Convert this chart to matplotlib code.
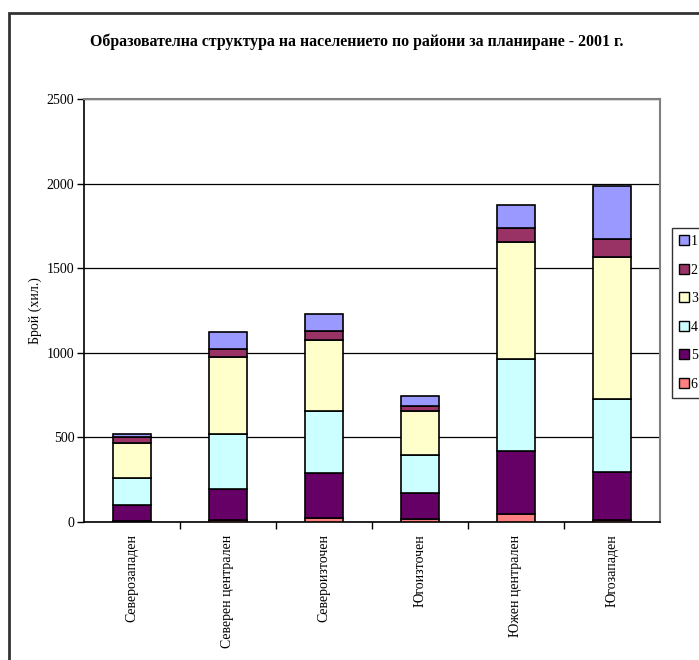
import matplotlib
matplotlib.use("Agg")

import numpy as np
import matplotlib.pyplot as plt
from matplotlib.patches import Rectangle
from matplotlib.lines import Line2D

# ── Data (хил. души) ─────────────────────────────────────────────────────────
regions = ["Северозападен", "Северен централен", "Североизточен",
           "Югоизточен", "Южен централен", "Югозападен"]
series_labels = ["1", "2", "3", "4", "5", "6"]

# stacked from bottom: 6, 5, 4, 3, 2, 1
s6 = [5, 12, 21, 18, 45, 10]
s5 = [95, 183, 270, 155, 374, 285]
s4 = [161, 323, 366, 221, 547, 431]
s3 = [207, 458, 417, 263, 689, 842]
s2 = [32, 47, 53, 28, 81, 103]
s1 = [23, 100, 105, 59, 135, 314]

colors = {"1": "#9999FF", "2": "#993366", "3": "#FFFFCC",
          "4": "#CCFFFF", "5": "#660066", "6": "#FF8080"}

plt.rcParams["font.family"] = ["Liberation Serif", "DejaVu Serif"]

W, H = 699, 660
fig = plt.figure(figsize=(W / 100, H / 100), dpi=100)

# outer chart frame (runs off the right and bottom edges)
fig.add_artist(Rectangle((9 / W, -0.1), 1.2, 1 - 13 / H + 0.1,
                         transform=fig.transFigure, fill=False,
                         edgecolor="#333333", linewidth=2.0))

ax = fig.add_axes([84 / W, 1 - 522 / H, (660 - 84) / W, (522 - 99) / H])

x = np.arange(len(regions))
bottom = np.zeros(len(regions))
stack = [("6", s6), ("5", s5), ("4", s4), ("3", s3), ("2", s2), ("1", s1)]
for name, vals in stack:
    vals = np.array(vals, dtype=float)
    ax.bar(x, vals, width=0.4, bottom=bottom, color=colors[name],
           edgecolor="black", linewidth=1.2, zorder=3)
    bottom += vals

ax.set_xlim(-0.5, len(regions) - 0.5)
ax.set_ylim(0, 2500)
ax.set_yticks(np.arange(0, 2501, 500))
ax.yaxis.grid(True, color="black", linewidth=0.9, zorder=0)
ax.set_axisbelow(True)

ax.set_xticks(x)
ax.set_xticklabels(regions, rotation=90, fontsize=10, va="top")
ax.set_xticks(np.arange(0.5, len(regions) - 0.5, 1), minor=True)
ax.tick_params(axis="x", which="major", length=0, pad=9)
ax.tick_params(axis="x", which="minor", length=5, width=1.0, direction="out")
ax.tick_params(axis="y", length=5, width=1.0, direction="out", labelsize=10, pad=2)

ax.spines["left"].set_color("black")
ax.spines["bottom"].set_color("black")
ax.spines["left"].set_linewidth(1.2)
ax.spines["bottom"].set_linewidth(1.2)
ax.spines["top"].set_color("#808080")
ax.spines["right"].set_color("#808080")
ax.spines["top"].set_linewidth(1.5)
ax.spines["right"].set_linewidth(1.5)

ax.set_ylabel("Брой (хил.)", fontsize=10, va="center")
ax.yaxis.set_label_coords((35 - 84) / (660 - 84), 0.5)

fig.text(357 / W, 1 - 42 / H,
         "Образователна структура на населението по райони за планиране - 2001 г.",
         ha="center", va="center", fontsize=11.4, fontweight="bold")

# legend, partly cut by the right edge of the image
handles = [Line2D([], [], marker="s", linestyle="none", markersize=6.5,
                  markerfacecolor=colors[s], markeredgecolor="black",
                  markeredgewidth=1.0) for s in series_labels]
fig.legend(handles, series_labels, loc="upper left",
           bbox_to_anchor=(672 / W, 1 - 228 / H), frameon=True,
           fancybox=False, edgecolor="black", fontsize=10,
           labelspacing=1.12, handlelength=0.7, handletextpad=0.15,
           borderpad=0.5, borderaxespad=0)

fig.savefig("out.png", dpi=100)
